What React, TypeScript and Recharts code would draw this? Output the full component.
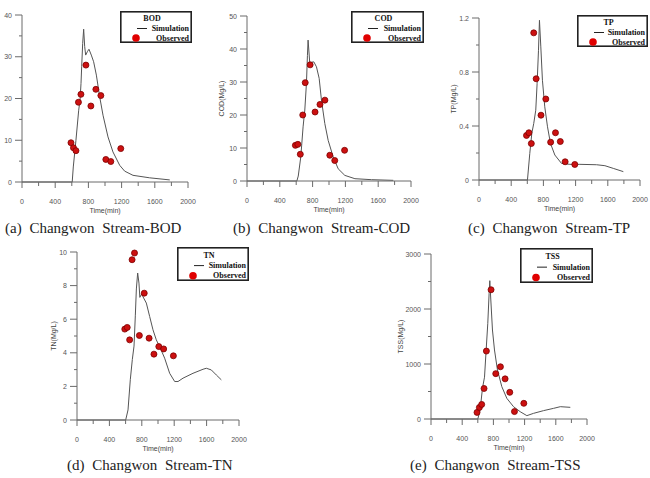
import React from 'react';
import { ComposedChart, Line, Scatter, XAxis, YAxis, Legend } from 'recharts';

// observation times (min), shared by all five panels
const obsTime = [590, 620, 650, 680, 710, 770, 830, 890, 950, 1010, 1070, 1190];

const bodObs = [9.4, 8.2, 7.5, 19.1, 21.0, 28.0, 18.2, 22.2, 20.7, 5.4, 4.9, 8.0];
const codObs = [10.8, 11.1, 8.1, 20.0, 29.8, 35.2, 20.9, 23.2, 24.5, 7.8, 6.2, 9.3];
const tpObs = [0.33, 0.35, 0.27, 1.09, 0.75, 0.48, 0.6, 0.28, 0.35, 0.285, 0.135, 0.115];
const tnObs = [5.41, 5.51, 4.77, 9.54, 9.94, 5.03, 7.55, 4.87, 3.92, 4.37, 4.23, 3.82];
const tssObs = [120, 210, 265, 555, 1235, 2350, 825, 950, 730, 485, 135, 285];

const bodSimTime = [0, 605, 618, 650, 683, 699, 711, 719, 731, 743, 755, 767, 787, 807, 835, 863, 896, 936, 976, 1036, 1096, 1177, 1237, 1337, 1538, 1780];
const bodSimValue = [0, 0, 3.6, 10, 17.2, 19.6, 23.6, 27.6, 33.2, 36.6, 32.5, 30.4, 31.2, 31.8, 30.4, 28.8, 25.6, 20.4, 16, 10.8, 7.2, 4, 2.6, 1.6, 1.0, 0.5];

const codSimTime = [0, 608, 625, 656, 684, 705, 725, 737, 745, 766, 790, 815, 847, 880, 908, 949, 990, 1051, 1112, 1193, 1316, 1519, 1784];
const codSimValue = [0, 0, 1.5, 7.3, 16.4, 21.5, 29.6, 38, 42.7, 35.6, 36, 36.1, 34.6, 31.1, 24.5, 17.4, 12.3, 7.3, 3.7, 1.7, 0.7, 0.4, 0.2];

const tpSimTime = [0, 602, 631, 656, 680, 705, 722, 739, 751, 768, 788, 817, 851, 888, 942, 1025, 1129, 1253, 1461, 1564, 1668, 1793];
const tpSimValue = [0, 0, 0.197, 0.345, 0.419, 0.517, 0.715, 0.961, 1.183, 0.986, 0.739, 0.542, 0.394, 0.271, 0.185, 0.123, 0.116, 0.116, 0.113, 0.106, 0.086, 0.062];

const tnSimTime = [0, 601, 630, 658, 683, 704, 720, 733, 749, 765, 776, 798, 823, 856, 897, 938, 979, 1029, 1082, 1144, 1206, 1247, 1309, 1432, 1556, 1597, 1658, 1720, 1782];
const tnSimValue = [0, 0, 0.6, 2.4, 3.6, 4.4, 6.2, 7.8, 8.75, 8.15, 7.3, 7.5, 7.26, 6.96, 6.16, 5.37, 4.77, 4.27, 3.68, 2.78, 2.29, 2.29, 2.49, 2.78, 3.02, 3.08, 2.98, 2.68, 2.39];

const tssSimTime = [0, 600, 630, 660, 686, 707, 728, 745, 754, 767, 788, 814, 852, 908, 972, 1058, 1143, 1229, 1315, 1443, 1572, 1658, 1786];
const tssSimValue = [0, 0, 164, 560, 760, 1255, 1739, 2285, 2515, 2164, 1618, 1255, 891, 588, 376, 224, 133, 61, 103, 152, 194, 224, 212];

// axis ticks
const xTicks = [0, 200, 400, 600, 800, 1000, 1200, 1400, 1600, 1800, 2000];
const xLabels = [0, 400, 800, 1200, 1600, 2000];
const bodYTicks = [0, 5, 10, 15, 20, 25, 30, 35, 40];
const bodYLabels = [0, 10, 20, 30, 40];
const codYTicks = [0, 5, 10, 15, 20, 25, 30, 35, 40, 45, 50];
const codYLabels = [0, 10, 20, 30, 40, 50];
const tpYTicks = [0, 0.2, 0.4, 0.6, 0.8, 1.0, 1.2];
const tpYLabels = [0, 0.4, 0.8, 1.2];
const tnYTicks = [0, 1, 2, 3, 4, 5, 6, 7, 8, 9, 10];
const tnYLabels = [0, 2, 4, 6, 8, 10];
const tssYTicks = [0, 500, 1000, 1500, 2000, 2500, 3000];
const tssYLabels = [0, 1000, 2000, 3000];

const MT = 10;
const MR = 12;
const YW = 45;
const XH = 36;
const AXIS = '#6a6a6a';
const TICK_TEXT = '#555';
const SANS = '"Liberation Sans", Arial, sans-serif';
const SERIF = '"Liberation Serif", "DejaVu Serif", serif';

const panels = [
  {
    name: 'BOD', px: 22, py: 15, pw: 166, ph: 167, yMax: 40,
    yTicks: bodYTicks, yLabels: bodYLabels, yTitle: '', yGap: 25,
    obs: bodObs, simTime: bodSimTime, simValue: bodSimValue,
    legend: { x: 120, y: 11, w: 72, h: 32 },
    caption: '(a) Changwon Stream-BOD', capX: 5, capY: 228,
  },
  {
    name: 'COD', px: 247, py: 16, pw: 164, ph: 165, yMax: 50,
    yTicks: codYTicks, yLabels: codYLabels, yTitle: 'COD(Mg/L)', yGap: 26,
    obs: codObs, simTime: codSimTime, simValue: codSimValue,
    legend: { x: 351, y: 11, w: 73, h: 32 },
    caption: '(b) Changwon Stream-COD', capX: 233, capY: 228,
  },
  {
    name: 'TP', px: 479, py: 18, pw: 161, ph: 162, yMax: 1.2,
    yTicks: tpYTicks, yLabels: tpYLabels, yTitle: 'TP(Mg/L)', yGap: 26,
    obs: tpObs, simTime: tpSimTime, simValue: tpSimValue,
    legend: { x: 577, y: 15, w: 71, h: 32 },
    caption: '(c) Changwon Stream-TP', capX: 468, capY: 228,
  },
  {
    name: 'TN', px: 77, py: 252, pw: 162, ph: 168, yMax: 10,
    yTicks: tnYTicks, yLabels: tnYLabels, yTitle: 'TN(Mg/L)', yGap: 24,
    obs: tnObs, simTime: tnSimTime, simValue: tnSimValue,
    legend: { x: 177, y: 247, w: 72, h: 34 },
    caption: '(d) Changwon Stream-TN', capX: 67, capY: 465,
  },
  {
    name: 'TSS', px: 431, py: 254, pw: 156, ph: 165, yMax: 3000,
    yTicks: tssYTicks, yLabels: tssYLabels, yTitle: 'TSS(Mg/L)', yGap: 31,
    obs: tssObs, simTime: tssSimTime, simValue: tssSimValue,
    legend: { x: 520, y: 248, w: 73, h: 35 },
    caption: '(e) Changwon Stream-TSS', capX: 410, capY: 465,
  },
];

type PanelDef = (typeof panels)[number];

const xTick = (props: any) => {
  const { x, y, payload } = props;
  const major = xLabels.includes(payload.value);
  return (
    <g>
      <line x1={x} x2={x} y1={y} y2={y + (major ? 6 : 4)} stroke={AXIS} />
      {major && (
        <text x={x} y={y + 19} textAnchor="middle" dominantBaseline="central" fontSize={7} fontFamily={SANS} fill={TICK_TEXT}>
          {payload.value}
        </text>
      )}
    </g>
  );
};

const makeYTick = (labels: number[]) => (props: any) => {
  const { x, y, payload } = props;
  const major = labels.includes(payload.value);
  return (
    <g>
      <line x1={x - (major ? 7 : 3)} x2={x} y1={y} y2={y} stroke={AXIS} />
      {major && (
        <text x={x - 10} y={y} textAnchor="end" dominantBaseline="central" fontSize={7} fontFamily={SANS} fill={TICK_TEXT}>
          {String(payload.value)}
        </text>
      )}
    </g>
  );
};

function LegendBox({ name, w, h }: { name: string; w: number; h: number }) {
  const row = h / 32;
  return (
    <svg width={w} height={h} style={{ display: 'block' }}>
      <rect x={0.8} y={0.8} width={w - 1.6} height={h - 1.6} fill="#fff" stroke="#222" strokeWidth={1.6} />
      <g fontFamily={SERIF} fontWeight="bold" fontSize={8} fill="#111">
        <text x={w / 2 - 4} y={10 * row} textAnchor="middle">{name}</text>
        <line x1={17} x2={27} y1={17.5 * row} y2={17.5 * row} stroke="#222" strokeWidth={1} />
        <text x={w - 3} y={20 * row} textAnchor="end">Simulation</text>
        <circle cx={16} cy={27 * row} r={3.8} fill="#e00000" />
        <text x={w - 3} y={29.5 * row} textAnchor="end">Observed</text>
      </g>
    </svg>
  );
}

function Panel({ p }: { p: PanelDef }) {
  const simData = p.simTime.map((t, i) => ({ t, v: p.simValue[i] }));
  const obsData = obsTime.map((t, i) => ({ t, v: p.obs[i] }));
  const left = p.px - YW;
  const top = p.py - MT;
  const width = YW + p.pw + MR;
  const height = MT + p.ph + XH;

  const xTitle = () => (
    <text x={YW + p.pw / 2} y={MT + p.ph + 28} textAnchor="middle" dominantBaseline="central" fontSize={7} fontFamily={SANS} fill="#444">
      Time(min)
    </text>
  );
  const yTitle = () => {
    const cx = YW - p.yGap;
    const cy = MT + p.ph / 2;
    return (
      <text x={cx} y={cy} transform={`rotate(-90 ${cx} ${cy})`} textAnchor="middle" dominantBaseline="central" fontSize={7} fontFamily={SANS} fill="#444">
        {p.yTitle}
      </text>
    );
  };

  return (
    <div style={{ position: 'absolute', left, top }}>
      <ComposedChart width={width} height={height} margin={{ top: MT, right: MR, bottom: 0, left: 0 }}>
        <XAxis
          type="number"
          dataKey="t"
          domain={[0, 2000]}
          ticks={xTicks}
          interval={0}
          height={XH}
          tickSize={0}
          tickMargin={0}
          stroke={AXIS}
          tick={xTick}
          label={xTitle}
        />
        <YAxis
          type="number"
          dataKey="v"
          domain={[0, p.yMax]}
          ticks={p.yTicks}
          interval={0}
          width={YW}
          tickSize={0}
          tickMargin={0}
          stroke={AXIS}
          tick={makeYTick(p.yLabels)}
          label={p.yTitle ? yTitle : undefined}
        />
        <Line
          data={simData}
          dataKey="v"
          type="linear"
          stroke="#555"
          strokeWidth={1}
          dot={false}
          activeDot={false}
          isAnimationActive={false}
        />
        <Scatter
          data={obsData}
          dataKey="v"
          isAnimationActive={false}
          shape={(s: any) => <circle cx={s.cx} cy={s.cy} r={3} fill="#cc1010" stroke="#7c0000" strokeWidth={0.8} />}
        />
        <Legend
          layout="horizontal"
          verticalAlign="middle"
          align="center"
          wrapperStyle={{ left: p.legend.x - left, top: p.legend.y - top, width: p.legend.w, height: p.legend.h }}
          content={() => <LegendBox name={p.name} w={p.legend.w} h={p.legend.h} />}
        />
      </ComposedChart>
    </div>
  );
}

export default function App() {
  return (
    <div style={{ position: 'absolute', left: 0, top: 0, width: 650, height: 478, overflow: 'hidden', background: '#fff' }}>
      {panels.map((p) => (
        <Panel key={p.name} p={p} />
      ))}
      {panels.map((p) => (
        <div
          key={'cap-' + p.name}
          style={{
            position: 'absolute',
            left: p.capX,
            top: p.capY - 9,
            lineHeight: '18px',
            fontFamily: SERIF,
            fontSize: 15,
            wordSpacing: 4,
            whiteSpace: 'nowrap',
            color: '#222',
          }}
        >
          {p.caption}
        </div>
      ))}
    </div>
  );
}
